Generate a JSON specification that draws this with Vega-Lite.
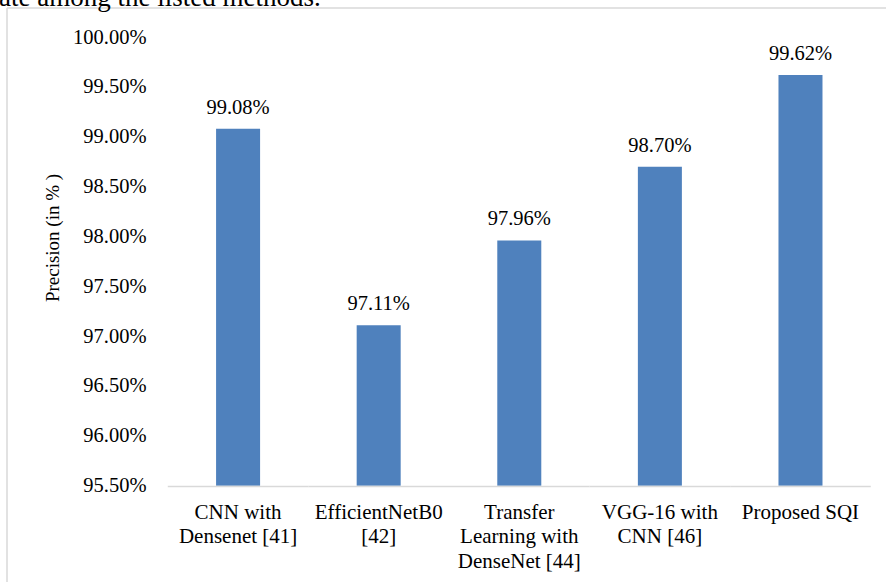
{
  "$schema": "https://vega.github.io/schema/vega-lite/v6.json",
  "width": 879,
  "height": 574,
  "autosize": {"type": "none"},
  "padding": {"left": 7, "top": 8, "right": 0, "bottom": 0},
  "background": "white",
  "config": {
    "view": {"stroke": "#d9d9d9", "strokeWidth": 1.5, "strokeDash": [879, 1453, 574, 0]},
    "font": "Liberation Serif",
    "axis": {
      "grid": false,
      "ticks": false,
      "domain": false,
      "labelColor": "black",
      "titleColor": "black",
      "labelFont": "Liberation Serif",
      "titleFont": "Liberation Serif"
    }
  },
  "title": {
    "text": "ate among the listed methods.",
    "anchor": "start",
    "frame": "group",
    "font": "Liberation Serif",
    "fontSize": 27,
    "fontWeight": "normal",
    "color": "black",
    "baseline": "alphabetic",
    "offset": 0,
    "dy": 25,
    "dx": -8
  },
  "data": {
    "values": [
      {"method": "CNN with\nDensenet [41]", "precision": 0.9908},
      {"method": "EfficientNetB0\n[42]", "precision": 0.9711},
      {"method": "Transfer\nLearning with\nDenseNet [44]", "precision": 0.9796},
      {"method": "VGG-16 with\nCNN [46]", "precision": 0.9870},
      {"method": "Proposed SQI", "precision": 0.9962}
    ]
  },
  "encoding": {
    "x": {
      "field": "method",
      "type": "nominal",
      "sort": null,
      "scale": {"paddingInner": 0.687, "paddingOuter": 0.9694, "align": 0.767},
      "axis": {
        "title": null,
        "labelAngle": 0,
        "offset": -96.3,
        "labelPadding": 32.3,
        "labelBaseline": "alphabetic",
        "labelFontSize": 21,
        "labelLineHeight": 24.5,
        "labelLimit": 0,
        "labelExpr": "split(datum.value, '\\n')"
      }
    }
  },
  "layer": [
    {
      "mark": {"type": "bar", "color": "#4f81bd"},
      "encoding": {
        "y": {
          "field": "precision",
          "type": "quantitative",
          "scale": {"domain": [0.94534, 1.00291], "nice": false, "zero": false},
          "axis": {
            "values": [0.955, 0.96, 0.965, 0.97, 0.975, 0.98, 0.985, 0.99, 0.995, 1.0],
            "format": ".2%",
            "offset": -160,
            "labelPadding": 21,
            "labelFontSize": 20.5,
            "title": "Precision (in % )",
            "titleFontSize": 19,
            "titleFontWeight": "normal",
            "titleAngle": -90,
            "titleBaseline": "bottom",
            "titlePadding": 10,
            "titleY": 229.5
          }
        },
        "y2": {"datum": 0.955}
      }
    },
    {
      "mark": {"type": "bar", "color": "#d9d9d9", "width": {"band": 3.195}},
      "encoding": {
        "y": {"datum": 0.955},
        "y2": {"datum": 0.95485}
      }
    },
    {
      "mark": {
        "type": "text",
        "font": "Liberation Serif",
        "fontSize": 20.5,
        "color": "black",
        "align": "center",
        "baseline": "alphabetic",
        "dy": -15
      },
      "encoding": {
        "y": {"field": "precision", "type": "quantitative"},
        "text": {"field": "precision", "type": "quantitative", "format": ".2%"}
      }
    }
  ]
}
